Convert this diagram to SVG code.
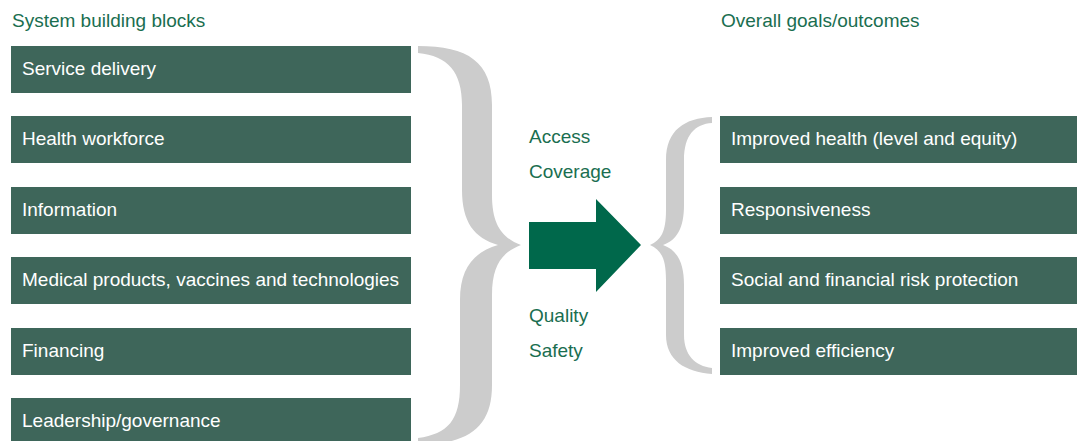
<svg xmlns="http://www.w3.org/2000/svg" width="1077" height="441" viewBox="0 0 1077 441">
  <style>
    .box { fill: #3e665a; }
    .box-label { font-family: "Liberation Sans", Arial, sans-serif; font-size: 19px; fill: #ffffff; }
    .heading { font-family: "Liberation Sans", Arial, sans-serif; font-size: 19px; fill: #1a6e50; }
    .brace { fill: #cccccc; }
    .arrow { fill: #00684b; }
  </style>
  <rect width="1077" height="441" fill="#ffffff"/>

  <!-- column headings -->
  <text class="heading" x="12" y="27">System building blocks</text>
  <text class="heading" x="721" y="27">Overall goals/outcomes</text>

  <!-- building blocks -->
  <g id="block-service-delivery">
    <rect class="box" x="11" y="46" width="400" height="47"/>
    <text class="box-label" x="22" y="75">Service delivery</text>
  </g>
  <g id="block-health-workforce">
    <rect class="box" x="11" y="116" width="400" height="47"/>
    <text class="box-label" x="22" y="145">Health workforce</text>
  </g>
  <g id="block-information">
    <rect class="box" x="11" y="187" width="400" height="47"/>
    <text class="box-label" x="22" y="216">Information</text>
  </g>
  <g id="block-medical-products">
    <rect class="box" x="11" y="257" width="400" height="47"/>
    <text class="box-label" x="22" y="286">Medical products, vaccines and technologies</text>
  </g>
  <g id="block-financing">
    <rect class="box" x="11" y="328" width="400" height="47"/>
    <text class="box-label" x="22" y="357">Financing</text>
  </g>
  <g id="block-leadership">
    <rect class="box" x="11" y="398" width="400" height="47"/>
    <text class="box-label" x="22" y="427">Leadership/governance</text>
  </g>

  <!-- goals / outcomes -->
  <g id="goal-improved-health">
    <rect class="box" x="720" y="116" width="357" height="47"/>
    <text class="box-label" x="731" y="145">Improved health (level and equity)</text>
  </g>
  <g id="goal-responsiveness">
    <rect class="box" x="720" y="187" width="357" height="47"/>
    <text class="box-label" x="731" y="216">Responsiveness</text>
  </g>
  <g id="goal-risk-protection">
    <rect class="box" x="720" y="257" width="357" height="47"/>
    <text class="box-label" x="731" y="286">Social and financial risk protection</text>
  </g>
  <g id="goal-efficiency">
    <rect class="box" x="720" y="328" width="357" height="47"/>
    <text class="box-label" x="731" y="357">Improved efficiency</text>
  </g>

  <!-- connectors: braces and central arrow -->
  <g id="connectors">
    <path class="brace" d="M418,46 C468,46 492,62 492,105 L492,195 C492,226 503,238 521,245 C503,252 492,264 492,295 L492,385 C492,428 468,444 418,445 L418,438 C448,434 460,420 460,385 L460,300 C460,268 474,252 498,245 C474,238 462,222 462,190 L462,105 C462,72 448,56 418,53 Z"/>
    <path class="brace" d="M712,117 C685,118 666,130 666,160 L666,210 C666,232 661,240 650,245 C661,250 666,258 666,280 L666,335 C666,360 685,372 712,374 L712,368 C695,366 684,355 684,335 L684,285 C684,262 677,250 663,245 C677,240 684,228 684,205 L684,160 C684,135 695,124 712,123 Z"/>
    <polygon class="arrow" points="529,222 596,222 596,199 641,245 596,292 596,269 529,269"/>
  </g>

  <!-- dimension labels around the arrow -->
  <g id="dimension-labels">
    <text class="heading" x="529" y="143">Access</text>
    <text class="heading" x="529" y="178">Coverage</text>
    <text class="heading" x="529" y="322">Quality</text>
    <text class="heading" x="529" y="357">Safety</text>
  </g>
</svg>
